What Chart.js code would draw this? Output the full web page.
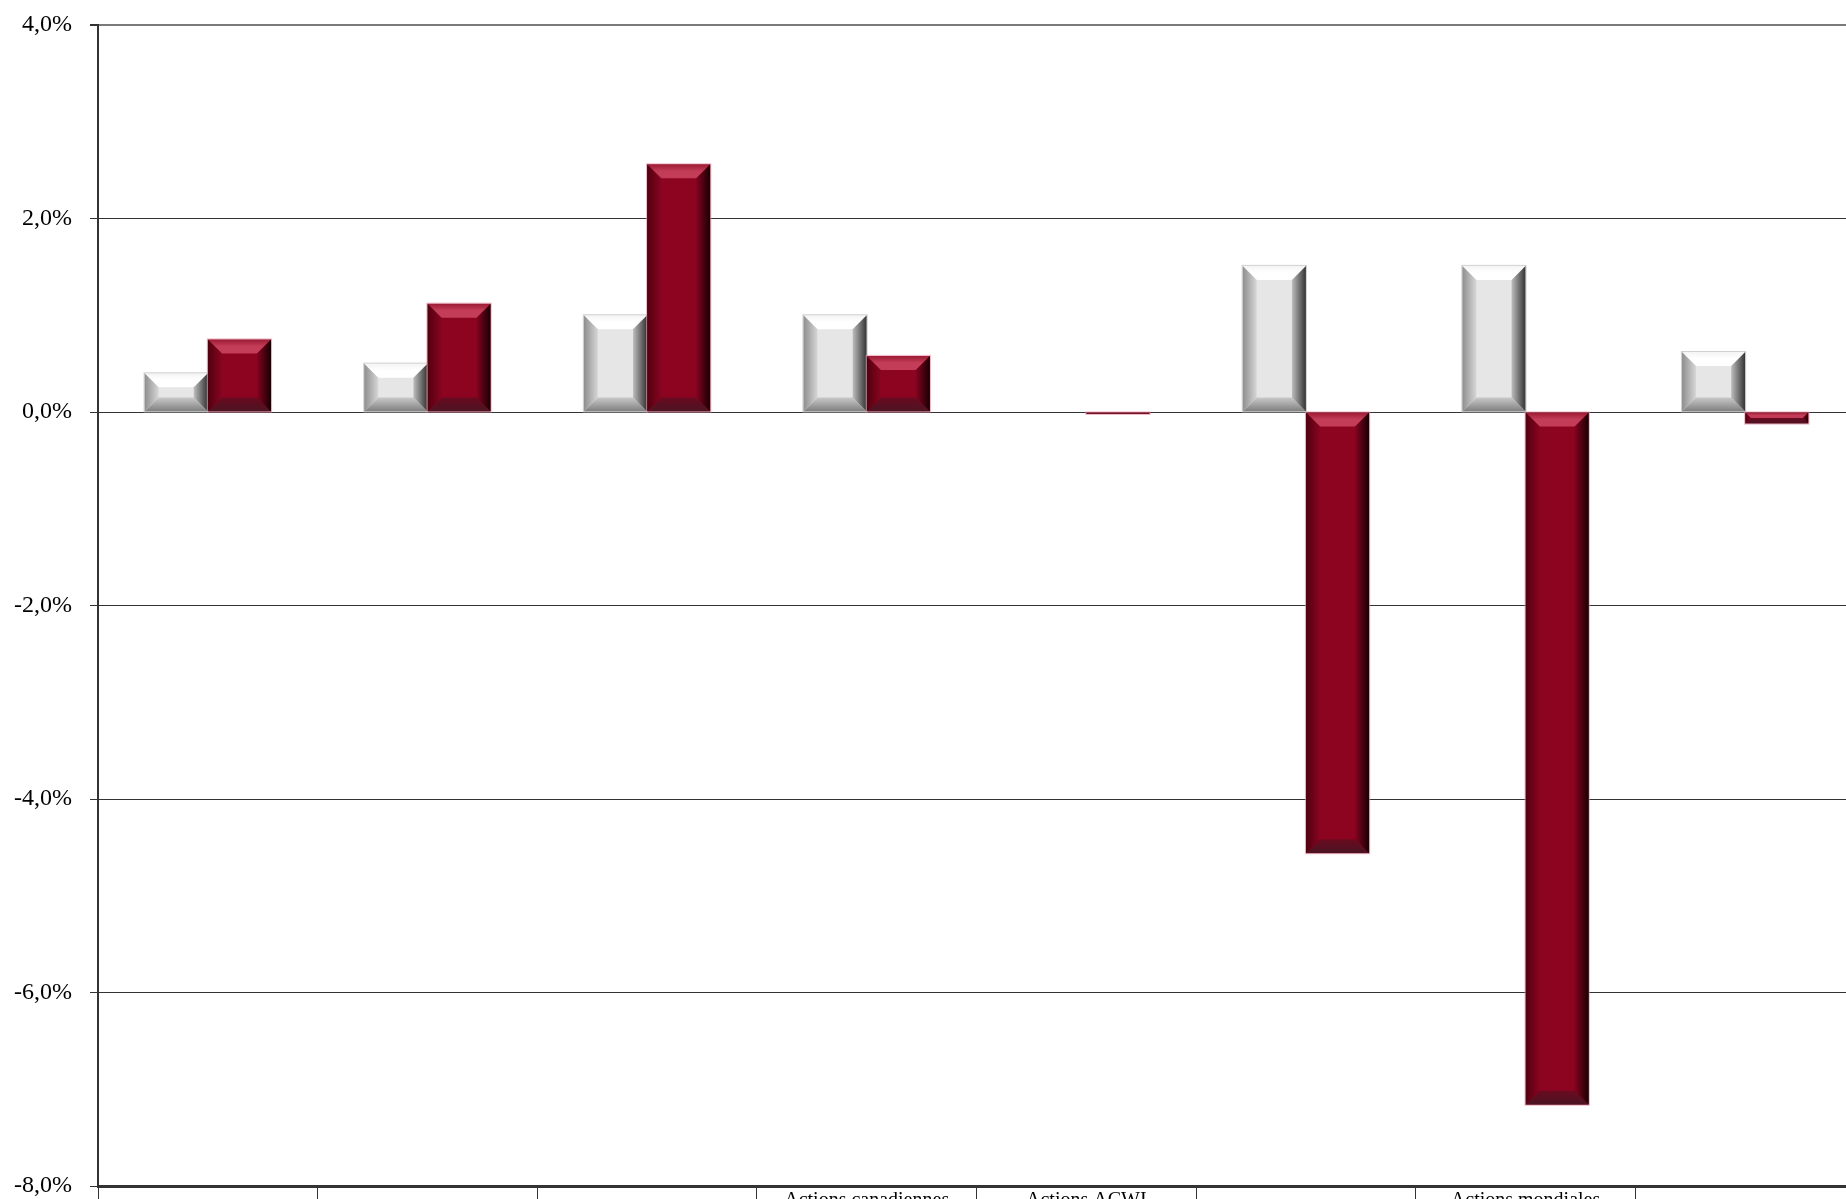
<!DOCTYPE html>
<html lang="fr">
<head>
<meta charset="utf-8">
<title>Écarts de rendement</title>
<script src="https://cdn.jsdelivr.net/npm/chart.js@4.4.1/dist/chart.umd.min.js"></script>
<style>
    html, body { margin: 0; padding: 0; background: #ffffff; overflow: hidden; }
    #wrap { position: absolute; left: 0; top: 0; }
</style>
</head>
<body>
<div id="wrap"><canvas id="ecarts" width="1857" height="1260"></canvas></div>
<script>
// Catégories et séries (en %)
const categories = ['', '', '', 'Actions canadiennes', 'Actions ACWI', '', 'Actions mondiales', ''];
const seriesGris = [0.40, 0.50, 1.00, 1.00, null, 1.51, 1.51, 0.62];
const seriesRouge = [0.75, 1.12, 2.56, 0.58, -0.02, -4.56, -7.16, -0.12];
const yTicks = [-8, -6, -4, -2, 0, 2, 4];

// Teintes du biseau pour chaque série
const bevelStyles = [
    {
        base: '#e6e6e6',
        top: ['#f4f4f4', '#ffffff'],
        left: ['#8e8e8e', '#d6d6d6'],
        right: ['#bdbdbd', '#333333'],
        bottom: ['#c9c9c9', '#7e7e7e'],
        outline: 'rgba(190,190,190,0.7)'
    },
    {
        base: '#8c0420',
        top: ['#9c1a34', '#c33d58'],
        left: ['#52000f', '#870420'],
        right: ['#820420', '#160003'],
        bottom: ['#6a0a20', '#4a1422'],
        outline: 'rgba(230,150,170,0.7)'
    }
];

function fillQuad(ctx, pts, grad) {
    ctx.beginPath();
    ctx.moveTo(pts[0][0], pts[0][1]);
    for (let i = 1; i < pts.length; i++) ctx.lineTo(pts[i][0], pts[i][1]);
    ctx.closePath();
    ctx.fillStyle = grad;
    ctx.fill();
}

// Effet biseauté dessiné par-dessus chaque barre
const bevelPlugin = {
    id: 'bevel',
    afterDatasetsDraw(chart) {
        const ctx = chart.ctx;
        chart.data.datasets.forEach((ds, di) => {
            const st = bevelStyles[di];
            chart.getDatasetMeta(di).data.forEach((bar, i) => {
                if (ds.data[i] === null) return;
                const p = bar.getProps(['x', 'y', 'base', 'width'], true);
                const l = p.x - p.width / 2, r = p.x + p.width / 2;
                const t = Math.min(p.y, p.base), b = Math.max(p.y, p.base);
                const h = b - t;
                const bv = Math.min(14, h / 2, p.width / 2);
                ctx.save();
                let g = ctx.createLinearGradient(0, t, 0, t + bv);
                g.addColorStop(0, st.top[0]); g.addColorStop(0.5, st.top[1]); g.addColorStop(1, st.top[1]);
                fillQuad(ctx, [[l, t], [r, t], [r - bv, t + bv], [l + bv, t + bv]], g);
                g = ctx.createLinearGradient(0, b - bv, 0, b);
                g.addColorStop(0, st.bottom[0]); g.addColorStop(1, st.bottom[1]);
                fillQuad(ctx, [[l, b], [r, b], [r - bv, b - bv], [l + bv, b - bv]], g);
                g = ctx.createLinearGradient(l, 0, l + bv, 0);
                g.addColorStop(0, st.left[0]); g.addColorStop(1, st.left[1]);
                fillQuad(ctx, [[l, t], [l + bv, t + bv], [l + bv, b - bv], [l, b]], g);
                g = ctx.createLinearGradient(r - bv, 0, r, 0);
                g.addColorStop(0, st.right[0]); g.addColorStop(1, st.right[1]);
                fillQuad(ctx, [[r, t], [r - bv, t + bv], [r - bv, b - bv], [r, b]], g);
                ctx.strokeStyle = st.outline;
                ctx.lineWidth = 1;
                ctx.strokeRect(l - 0.5, t - 0.5, p.width + 1, h + 1);
                ctx.restore();
            });
        });
    }
};

const chart = new Chart(document.getElementById('ecarts'), {
    type: 'bar',
    data: {
        labels: categories,
        datasets: [
            { data: seriesGris, backgroundColor: bevelStyles[0].base, borderWidth: 0 },
            { data: seriesRouge, backgroundColor: bevelStyles[1].base, borderWidth: 0 }
        ]
    },
    options: {
        responsive: false,
        maintainAspectRatio: false,
        animation: false,
        devicePixelRatio: 1,
        datasets: { bar: { categoryPercentage: 0.576, barPercentage: 1.0 } },
        layout: { padding: { top: 25, right: 2, left: 0, bottom: 0 } },
        plugins: { legend: { display: false }, tooltip: { enabled: false } },
        scales: {
            x: {
                afterFit(scale) { scale.height = 74; },
                grid: {
                    offset: true,
                    drawOnChartArea: false,
                    drawTicks: true,
                    tickLength: 40,
                    color: '#333333',
                    lineWidth: 1
                },
                border: { display: true, color: '#333333', width: 3 },
                ticks: {
                    autoSkip: false,
                    maxRotation: 0,
                    padding: -37,
                    color: '#000000',
                    font: { family: 'Liberation Serif', size: 20 }
                }
            },
            y: {
                min: -8,
                max: 4,
                afterFit(scale) {
                    scale.width = 98;
                    scale.paddingTop = 0;
                    scale.paddingBottom = 0;
                },
                afterBuildTicks(scale) { scale.ticks = yTicks.map(v => ({ value: v })); },
                grid: {
                    drawTicks: true,
                    tickLength: 8,
                    color: ctx => (ctx.tick && ctx.tick.value === 4 ? '#7a7a7a' : '#333333'),
                    lineWidth: ctx => (ctx.tick && ctx.tick.value === 4 ? 2 : 1),
                    tickColor: '#333333'
                },
                border: { display: true, color: '#333333', width: 2 },
                ticks: {
                    padding: 18,
                    color: '#000000',
                    font: { family: 'Liberation Serif', size: 24 },
                    callback: v => v.toFixed(1).replace('.', ',') + '%'
                }
            }
        }
    },
    plugins: [bevelPlugin]
});
</script>
</body>
</html>
